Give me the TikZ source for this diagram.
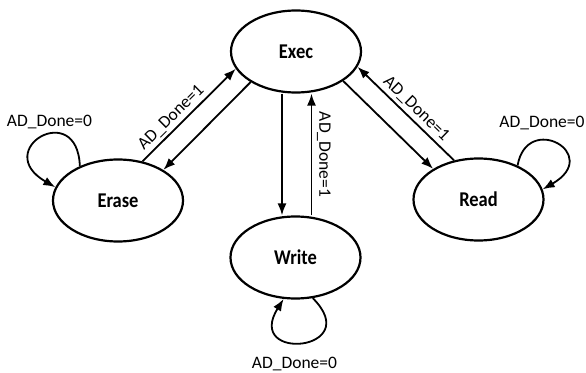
\documentclass[tikz,border=0pt]{standalone}
\usepackage{fontspec}
\setmainfont{Carlito}
\newfontfamily\statefont[FakeStretch=0.88]{Carlito}
\usetikzlibrary{shapes.geometric,arrows.meta}
\begin{document}
\begin{tikzpicture}[x=1pt,y=1pt,
  state/.style={ellipse, draw, line width=2.2pt, minimum width=130pt,
    minimum height=82pt, inner sep=0pt,
    font=\statefont\bfseries\fontsize{21}{24}\selectfont},
  arr/.style={line width=1.8pt, -{Latex[length=12pt,width=9pt]}},
  lbl/.style={font=\fontsize{17.5}{20}\selectfont, inner sep=3pt}]
\useasboundingbox (0,0) rectangle (586,372);

% states
\node[state] (exec)  at (296,320.5)   {Exec};
\node[state] (erase) at (118,171.5)   {Erase};
\node[state] (read)  at (478.5,172.5) {Read};
\node[state] (write) at (295.5,114.5) {Write};

% Exec <-> Erase
\draw[arr] (exec.214) -- (erase.34);
\draw[arr] (erase.58) -- node[lbl, sloped, above, pos=0.39] (lerase) {AD\_Done=1} (exec.196);

% Exec <-> Read
\draw[arr] (exec.328) -- (read.146);
\draw[arr] (read.122) -- node[lbl, sloped, above, pos=0.47] (lread) {AD\_Done=1} (exec.346);

% Exec <-> Write
\draw[arr] ([xshift=-14pt]exec.south) -- ([xshift=-14pt]exec.south |- write.north);
\draw[arr] ([xshift=16pt]write.north) --
  node[lbl, midway, rotate=-90, anchor=south, inner sep=4.5pt] (lwrite) {AD\_Done=1}
  ([xshift=16pt]write.north |- exec.south);

% self loops
\draw[arr] (erase.138) .. controls +(92:68) and +(150:75) .. (erase.168);
\draw[arr] (read.41) .. controls +(80:55) and +(30:70) .. (read.9);
\draw[arr] (write.293) .. controls +(-45:75) and +(238:75) .. (write.254);

% loop labels
\node[lbl, anchor=base] (lloopE) at (49.5,245)  {AD\_Done=0};
\node[lbl, anchor=base] (lloopR) at (542,244)   {AD\_Done=0};
\node[lbl, anchor=base] (lloopW) at (294.5,4)   {AD\_Done=0};
\end{tikzpicture}
\end{document}
